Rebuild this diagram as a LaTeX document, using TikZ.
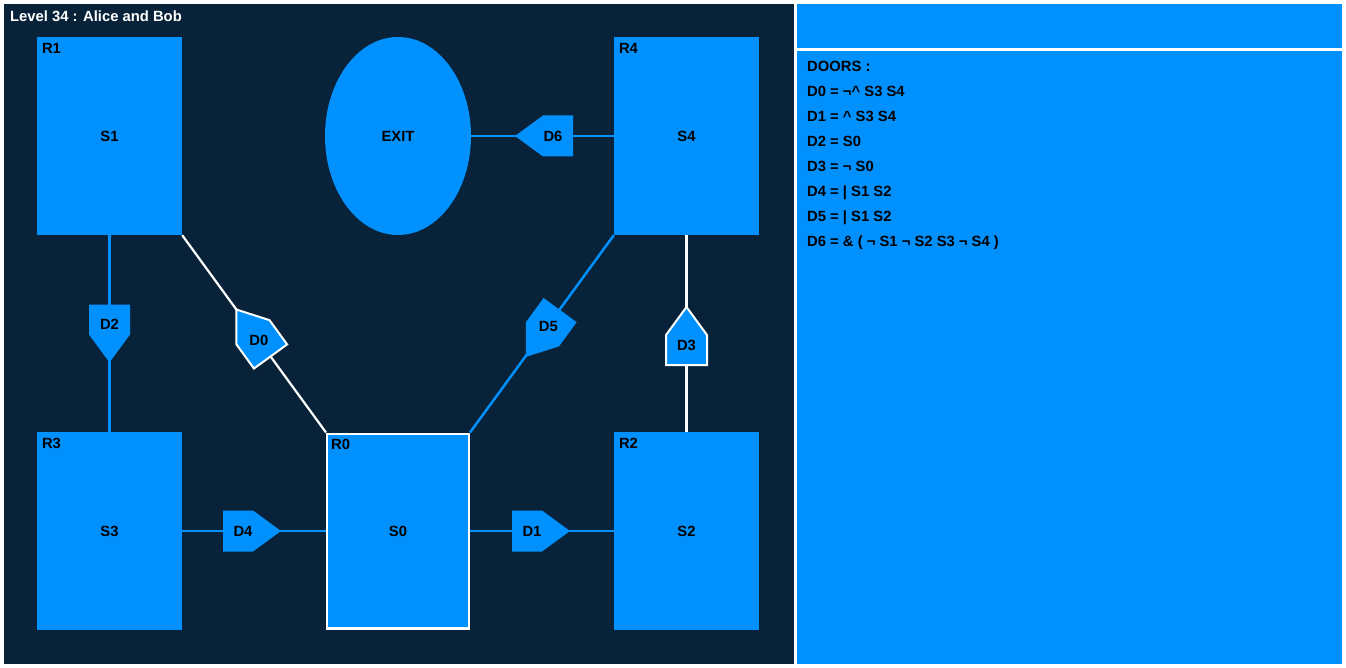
\documentclass[tikz,border=0pt]{standalone}
\usepackage{fontspec}
\setmainfont{Liberation Sans}
\usetikzlibrary{shapes.geometric}

\definecolor{panelnavy}{HTML}{082339}
\definecolor{roomblue}{HTML}{0091FF}

% door: name, x, y, angle of the tip, outline
\newcommand{\drawdoor}[5]{%
  \begin{scope}[shift={(#2,#3)}, rotate=#4]
    \filldraw[fill=roomblue, #5] (29,0) -- (1,20.5) -- (-29,20.5) -- (-29,-20.5) -- (1,-20.5) -- cycle;
    \node[txt] (#1) at (-9,0) {#1};
  \end{scope}}

\begin{document}
\begin{tikzpicture}[x=1pt, y=-1pt,
    txt/.style={font=\bfseries\fontsize{14.8}{17}\selectfont, text=black, inner sep=0pt},
    room/.style={rectangle, fill=roomblue, minimum width=145, minimum height=198, inner sep=0pt,
      font=\bfseries\fontsize{14.8}{17}\selectfont},
    bluelink/.style={draw=roomblue, line width=2.5},
    whitelink/.style={draw=white, line width=2.2}]
    \useasboundingbox (0,0) rectangle (1346,668);
    \fill[white] (0,0) rectangle (1346,668);

    % Panels
    \fill[panelnavy] (4,4) rectangle (794,664);
    \fill[roomblue] (797,4) rectangle (1342,48);
    \fill[roomblue] (797,51) rectangle (1342,664);
    \node[txt, text=white, anchor=base west] (title) at (10,21.5) {Level 34 : Alice and Bob};

    % Rooms
    \node[room] (R1) at (109.5,136) {S1};
    \node[room] (R4) at (686.5,136) {S4};
    \node[room] (R3) at (109.5,531) {S3};
    \node[room] (R2) at (686.5,531) {S2};
    \node[room, draw=white, line width=2.4, minimum width=141.6, minimum height=194.6] (R0) at (398,531) {S0};
    \node[ellipse, fill=roomblue, minimum width=146, minimum height=198, inner sep=0pt,
      font=\bfseries\fontsize{14.8}{17}\selectfont] (EXIT) at (398,136) {EXIT};

    % Room names
    \foreach \r in {R0,R1,R2,R3,R4}
      \node[txt, anchor=north west] (\r name) at ([shift={(5,6)}]\r.north west) {\r};

    % Corridors
    \draw[bluelink] (R1.south) -- (R3.north);
    \draw[whitelink] (R4.south) -- (R2.north);
    \draw[whitelink] (R1.south east) -- (R0.north west);
    \draw[bluelink] (R4.south west) -- (R0.north east);
    \draw[bluelink] (R3.east) -- (R0.west);
    \draw[bluelink] (R0.east) -- (R2.west);
    \draw[bluelink] (EXIT.east) -- (R4.west);

    % Doors
    \drawdoor{D0}{253.5}{333}{126}{draw=white, line width=2}
    \drawdoor{D1}{541}{531}{0}{draw=none}
    \drawdoor{D2}{109.5}{333.5}{-90}{draw=none}
    \drawdoor{D3}{686.5}{336}{90}{draw=white, line width=2}
    \drawdoor{D4}{252}{531}{0}{draw=none}
    \drawdoor{D5}{543}{333.5}{233.8}{draw=none}
    \drawdoor{D6}{544}{136}{180}{draw=none}

    % Door rules
    \node[txt, anchor=base west] (rules) at (807,72) {DOORS :};
    \foreach \rule [count=\i] in {D0 = ¬\textasciicircum{} S3 S4, D1 = \textasciicircum{} S3 S4, D2 = S0, D3 = ¬ S0,
      D4 = | S1 S2, D5 = | S1 S2, D6 = \& ( ¬ S1 ¬ S2 S3 ¬ S4 )}
      \node[txt, anchor=base west] (rule\i) at (807,72+25*\i) {\rule};
\end{tikzpicture}
\end{document}
